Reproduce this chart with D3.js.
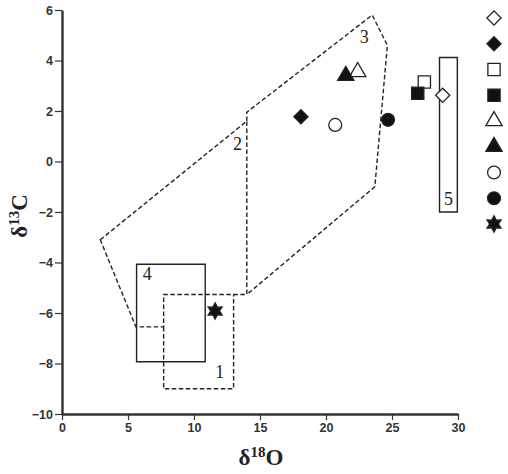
<!DOCTYPE html>
<html lang="en">
<head>
<meta charset="UTF-8">
<title>d13C vs d18O</title>
<script src="https://d3js.org/d3.v7.min.js"></script>
<style>
  body { margin: 0; background: #fff; }
  .tick text { font-family: "Liberation Sans Narrow", "Arial Narrow", "Liberation Sans", sans-serif; font-weight: bold; font-size: 12.5px; fill: #333; }
  .zone { fill: none; stroke: #222; stroke-width: 1.4; }
  .dash { stroke-dasharray: 4.5 2.5; }
  .zlabel { font-family: "Liberation Serif", "Times New Roman", serif; font-size: 18px; fill: #222; }
  .title { font-family: "Liberation Serif", "Times New Roman", serif; font-weight: bold; font-size: 23px; fill: #222; }
</style>
</head>
<body>
<svg id="main" width="508" height="474"></svg>
<script>
  // tick values
  const xTicks = [0, 5, 10, 15, 20, 25, 30];
  const yTicks = [-10, -8, -6, -4, -2, 0, 2, 4, 6];

  // samples (legend order)
  const sampleShape = ['diamond', 'diamond', 'square', 'square', 'triangle', 'triangle', 'circle', 'circle', 'star'];
  const sampleFilled = [false, true, false, true, false, true, false, true, true];
  const sampleX = [28.84, 18.1, 27.45, 26.95, 22.4, 21.5, 20.7, 24.7, 11.6];
  const sampleY = [2.62, 1.77, 3.15, 2.7, 3.55, 3.4, 1.45, 1.65, -5.92];

  // field outlines
  const zone2 = [[2.9, -3.1], [14, 1.6], [14, -5.27], [7.7, -5.27], [7.7, -6.55], [5.6, -6.55]];
  const zone3 = [[14, 1.6], [14, 1.95], [23.5, 5.8], [24.65, 4.6], [23.7, -1.0], [14, -5.27]];
  const zone1 = [[7.7, -6.55], [7.7, -9.0], [13.0, -9.0], [13.0, -5.27]];
  const zone4 = [[5.65, -4.07], [10.85, -4.07], [10.85, -7.93], [5.65, -7.93]];
  const zone5 = [[28.6, 4.12], [29.95, 4.12], [29.95, -2.0], [28.6, -2.0]];

  const zoneNames = ['1', '2', '3', '4', '5'];
  const zoneLabelX = [11.95, 13.3, 22.9, 6.45, 29.28];
  const zoneLabelY = [-8.35, 0.7, 4.92, -4.45, -1.48];

  const svg = d3.select('svg#main');
  const x = d3.scaleLinear().domain([0, 30]).range([62, 458]);
  const y = d3.scaleLinear().domain([-10, 6]).range([414, 10]);

  const line = d3.line().x(d => x(d[0])).y(d => y(d[1]));

  // zones
  svg.append('path').attr('class', 'zone dash').attr('d', line(zone2) + 'Z');
  svg.append('path').attr('class', 'zone dash').attr('d', line(zone3));
  svg.append('path').attr('class', 'zone dash').attr('d', line(zone1));
  svg.append('path').attr('class', 'zone').attr('d', line(zone4) + 'Z');
  svg.append('path').attr('class', 'zone').attr('d', line(zone5) + 'Z');

  svg.selectAll('text.zlabel')
    .data(zoneNames)
    .enter()
    .append('text')
    .attr('class', 'zlabel')
    .attr('x', (d, i) => x(zoneLabelX[i]))
    .attr('y', (d, i) => y(zoneLabelY[i]))
    .attr('text-anchor', 'middle')
    .attr('dominant-baseline', 'central')
    .text(d => d);

  // axes
  const xAxis = svg.append('g')
    .attr('transform', 'translate(0,' + y(-10) + ')')
    .call(d3.axisBottom(x).tickValues(xTicks).tickSize(6).tickSizeOuter(0).tickPadding(3));
  const yAxis = svg.append('g')
    .attr('transform', 'translate(' + x(0) + ',0)')
    .call(d3.axisLeft(y).tickValues(yTicks).tickSize(7).tickSizeOuter(0).tickPadding(2));
  [xAxis, yAxis].forEach(g => {
    g.select('.domain').attr('stroke', '#333').attr('stroke-width', 2.4);
    g.selectAll('.tick line').attr('stroke', '#333').attr('stroke-width', 1.2);
  });

  // six-pointed star
  const symbolHexStar = {
    draw(context, size) {
      const R = Math.sqrt(size) * 0.62;
      const r = R * 0.55;
      for (let k = 0; k < 12; k++) {
        const a = Math.PI / 6 * k - Math.PI / 2;
        const rad = k % 2 === 0 ? R : r;
        if (k === 0) context.moveTo(rad * Math.cos(a), rad * Math.sin(a));
        else context.lineTo(rad * Math.cos(a), rad * Math.sin(a));
      }
      context.closePath();
    }
  };
  const shapeType = { diamond: d3.symbolSquare, square: d3.symbolSquare, triangle: d3.symbolTriangle, circle: d3.symbolCircle, star: symbolHexStar };
  const shapeSize = { diamond: 100, square: 150, triangle: 115, circle: 130, star: 170 };
  const shapeRot = { diamond: 45, square: 0, triangle: 0, circle: 0, star: 0 };
  const sym = d => d3.symbol().type(shapeType[d]).size(shapeSize[d])();

  const fillOf = i => sampleFilled[i] ? '#111' : '#fff';

  svg.selectAll('path.pt')
    .data(sampleShape)
    .enter()
    .append('path')
    .attr('class', 'pt')
    .attr('d', sym)
    .attr('transform', (d, i) => 'translate(' + x(sampleX[i]) + ',' + y(sampleY[i]) + ') rotate(' + shapeRot[d] + ')')
    .attr('fill', (d, i) => fillOf(i))
    .attr('stroke', '#222')
    .attr('stroke-width', 1.3);

  // legend column (symbols only)
  const ly = d3.scalePoint().domain(d3.range(sampleShape.length)).range([18, 224]);
  svg.selectAll('path.lg')
    .data(sampleShape)
    .enter()
    .append('path')
    .attr('class', 'lg')
    .attr('d', sym)
    .attr('transform', (d, i) => 'translate(494,' + ly(i) + ') rotate(' + shapeRot[d] + ')')
    .attr('fill', (d, i) => fillOf(i))
    .attr('stroke', '#222')
    .attr('stroke-width', 1.3);

  // axis titles
  const xt = svg.append('text').attr('class', 'title')
    .attr('x', 261).attr('y', 465).attr('text-anchor', 'middle');
  xt.append('tspan').text('δ');
  xt.append('tspan').attr('font-size', 15).attr('dy', -8).text('18');
  xt.append('tspan').attr('dy', 8).text('O');

  const yt = svg.append('text').attr('class', 'title')
    .attr('transform', 'translate(27,216) rotate(-90)').attr('text-anchor', 'middle');
  yt.append('tspan').text('δ');
  yt.append('tspan').attr('font-size', 15).attr('dy', -8).text('13');
  yt.append('tspan').attr('dy', 8).text('C');
</script>
</body>
</html>
